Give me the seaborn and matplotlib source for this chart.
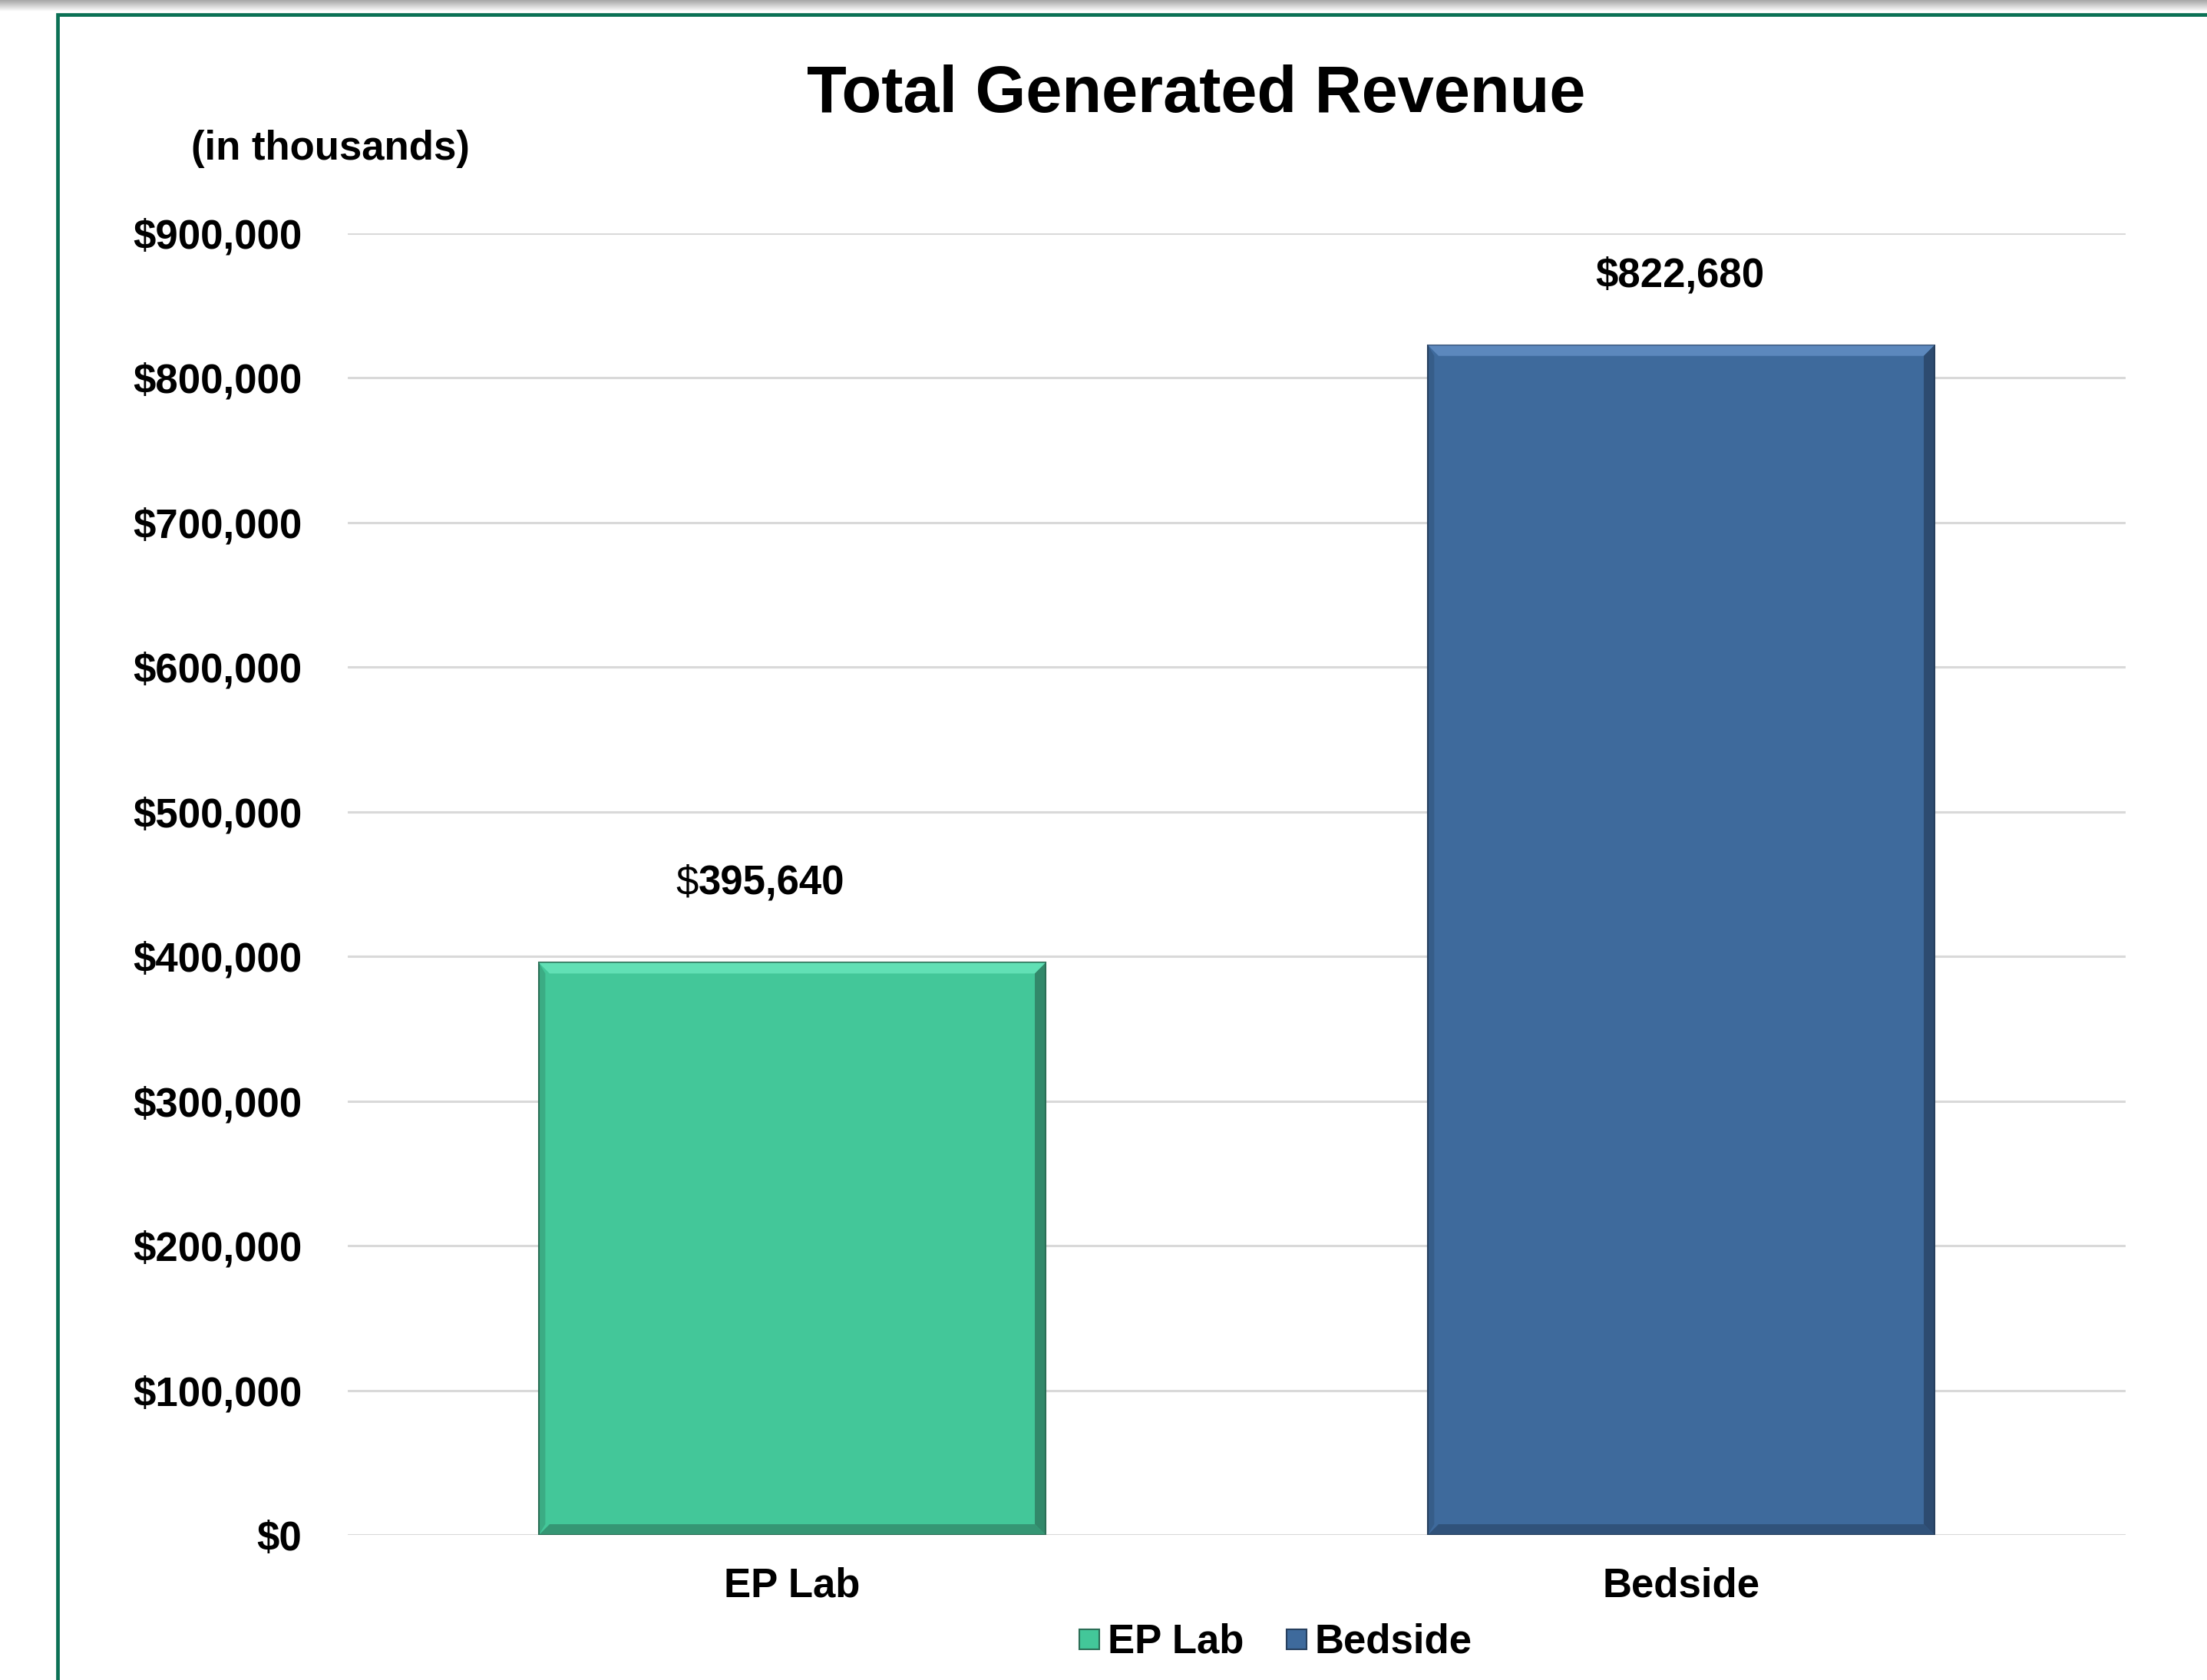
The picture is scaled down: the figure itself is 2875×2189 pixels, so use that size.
import numpy as np
import pandas as pd
import matplotlib
matplotlib.use("Agg")
import matplotlib.pyplot as plt
import seaborn as sns
from matplotlib.lines import Line2D
from matplotlib.patches import Polygon, Rectangle
from matplotlib.ticker import FuncFormatter

# ---- data ----
categories = ["EP Lab", "Bedside"]
revenue = [395640, 822680]
bar_colors = ["#43C799", "#3E6A9C"]
edge_colors = ["#2B6E56", "#263F5E"]
light_colors = ["#6EEBC2", "#6A95CC"]
y_ticks = [0, 100000, 200000, 300000, 400000, 500000, 600000, 700000, 800000, 900000]
title_text = "Total Generated Revenue"
subtitle_text = "(in thousands)"

sns.set_theme(style="white")
plt.rcParams["font.family"] = ["Liberation Sans", "DejaVu Sans"]
plt.rcParams["text.color"] = "black"

W, H, DPI = 2875, 2189, 100
fig = plt.figure(figsize=(W / DPI, H / DPI), dpi=DPI)
fig.patch.set_facecolor("white")

ax_l, ax_r = 453 / W, 2769 / W
ax_b, ax_t = (H - 2000) / H, (H - 304) / H
ax = fig.add_axes([ax_l, ax_b, ax_r - ax_l, ax_t - ax_b])

df = pd.DataFrame({"cat": categories, "val": revenue})
sns.barplot(data=df, x="cat", y="val", hue="cat", palette=bar_colors,
            width=0.57, legend=False, ax=ax, zorder=3, saturation=1)

ax.set_ylim(0, 900000)
ax.set_xlim(-0.5, 1.5)
ax.set_yticks(y_ticks)
ax.yaxis.set_major_formatter(FuncFormatter(lambda v, p: "${:,.0f}".format(v)))
ax.grid(axis="y", color="#D9D9D9", linewidth=2.2, zorder=0)
ax.grid(axis="x", visible=False)
for s in ax.spines.values():
    s.set_visible(False)
ax.set_xlabel("")
ax.set_ylabel("")
ax.tick_params(axis="y", length=0, pad=43, labelsize=38, labelcolor="black")
ax.tick_params(axis="x", length=0, pad=30, labelsize=38, labelcolor="black")
for lab in ax.get_yticklabels() + ax.get_xticklabels():
    lab.set_fontweight("bold")

# bar edges + bevel decoration based on bar geometry
fig.canvas.draw()
inv = ax.transData.inverted()
p0 = inv.transform((0, 0))
p1 = inv.transform((14, 14))
dx, dy = p1[0] - p0[0], p1[1] - p0[1]
bars = [p for p in ax.patches]
for i, bar in enumerate(bars):
    bar.set_edgecolor(edge_colors[i])
    bar.set_linewidth(1.5)
    x0, w, h = bar.get_x(), bar.get_width(), bar.get_height()
    x1 = x0 + w
    ax.add_patch(Polygon([(x0, h), (x1, h), (x1 - dx, h - dy), (x0 + dx, h - dy)],
                         closed=True, facecolor=light_colors[i], alpha=0.7,
                         edgecolor="none", zorder=4))
    ax.add_patch(Polygon([(x1, h), (x1, 0), (x1 - dx, dy), (x1 - dx, h - dy)],
                         closed=True, facecolor=edge_colors[i], alpha=0.7,
                         edgecolor="none", zorder=4))
    ax.add_patch(Polygon([(x0, 0), (x1, 0), (x1 - dx, dy), (x0 + dx, dy)],
                         closed=True, facecolor=edge_colors[i], alpha=0.55,
                         edgecolor="none", zorder=4))
    ax.add_patch(Polygon([(x0, h), (x0, 0), (x0 + dx * 0.6, dy), (x0 + dx * 0.6, h - dy)],
                         closed=True, facecolor=edge_colors[i], alpha=0.3,
                         edgecolor="none", zorder=4))

# data labels
label_offsets = [(-29, 74), (-1, 65)]
for i, (cat, val) in enumerate(zip(categories, revenue)):
    ox, oy = label_offsets[i]
    digits = "{:,.0f}".format(val)
    if i == 0:
        split = -59
        ax.annotate("$", xy=(i, val), xytext=(ox + split, oy), textcoords="offset points",
                    ha="right", va="center", fontsize=38, fontweight="normal", color="black")
        ax.annotate(digits, xy=(i, val), xytext=(ox + split, oy), textcoords="offset points",
                    ha="left", va="center", fontsize=38, fontweight="bold", color="black")
    else:
        ax.annotate("$" + digits, xy=(i, val), xytext=(ox, oy), textcoords="offset points",
                    ha="center", va="center", fontsize=38, fontweight="bold", color="black")

# titles
fig.text(1558 / W, 1 - 124 / H, title_text, ha="center", va="center",
         fontsize=61, fontweight="bold", color="black")
fig.text(249 / W, 1 - 194 / H, subtitle_text, ha="left", va="center",
         fontsize=38, fontweight="bold", color="black")

# legend
handles = [Line2D([0], [0], marker="s", linestyle="none", markersize=19,
                  markerfacecolor=bar_colors[i], markeredgecolor=edge_colors[i],
                  markeredgewidth=1.5) for i in range(len(categories))]
leg = fig.legend(handles, categories, loc="center", bbox_to_anchor=(1658 / W, 1 - 2140 / H),
                 ncol=2, frameon=False, handletextpad=0.05, columnspacing=0.9,
                 handlelength=0.8, labelcolor="black",
                 prop={"size": 38, "weight": "bold"})

# frame decorations: top gray shadow and green border
shadow_ax = fig.add_axes([0, 1 - 15 / H, 1, 15 / H])
grad = np.linspace(0.65, 1.0, 50).reshape(-1, 1)
shadow_ax.imshow(np.repeat(grad, 2, axis=1), cmap="gray", vmin=0, vmax=1,
                 aspect="auto", extent=[0, 1, 1, 0])
shadow_ax.set_axis_off()
fig.add_artist(Rectangle((75 / W, -0.05), 1.2, (1 - 19.5 / H) + 0.05,
                         transform=fig.transFigure, fill=False,
                         edgecolor="#0B7155", linewidth=3.4, clip_on=False))

fig.savefig("out.png", dpi=DPI)
